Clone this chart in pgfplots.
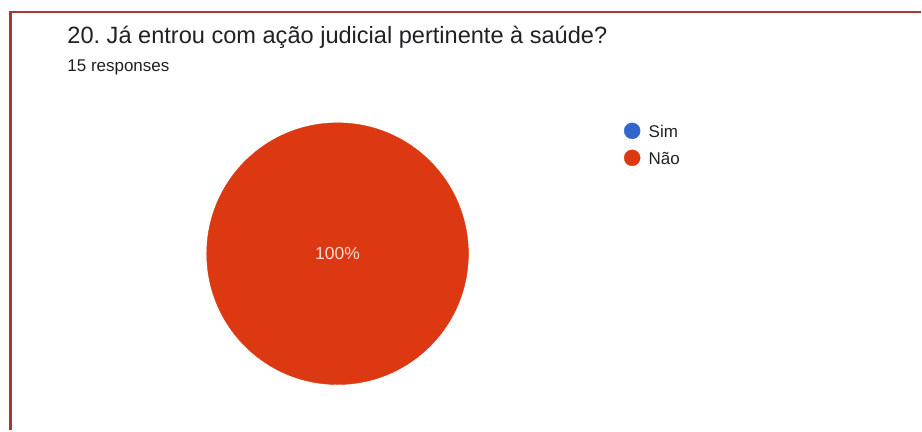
\documentclass[border=0pt]{standalone}
\usepackage{pgfplots}
\pgfplotsset{compat=1.18}
\usepackage{fontspec}
\setmainfont{Liberation Sans}
\frenchspacing
\definecolor{pieRed}{HTML}{DC3912}
\definecolor{pieBlue}{HTML}{3366CC}
\definecolor{frameRed}{HTML}{A83838}
\definecolor{txt}{HTML}{202124}
\begin{document}
\begin{tikzpicture}
\begin{axis}[
  x=1pt, y=1pt, y dir=reverse,
  xmin=0, xmax=922, ymin=0, ymax=431,
  scale only axis, hide axis, clip=false,
  anchor=origin
]
% background (page extent)
\addplot[fill=white, draw=none] coordinates {(0,0) (922,0) (922,431) (0,431)} \closedcycle;
% frame
\addplot[color=frameRed, line width=2.4pt, mark=none] coordinates {(10.5,431) (10.5,12) (922,12)};
% pie: Sim = 0 (0%), Não = 15 (100%) -> full circle
\addplot[only marks, mark=*, mark size=131pt, color=pieRed, mark options={fill=pieRed, draw=none}] coordinates {(338,254)};
% legend markers
\addplot[only marks, mark=*, mark size=8pt, color=pieBlue, mark options={draw=none}] coordinates {(633,131)};
\addplot[only marks, mark=*, mark size=8pt, color=pieRed, mark options={draw=none}] coordinates {(633,158)};
\coordinate (pc) at (axis cs:338,254);
\node[anchor=base west, text=txt, font=\fontsize{23.6}{28}\selectfont] at (axis cs:64,43.5) {20. Já entrou com ação judicial pertinente à saúde?};
\node[anchor=base west, text=txt, font=\fontsize{17}{20}\selectfont] at (axis cs:64,72) {15 responses};
\node[anchor=base west, text=txt, font=\fontsize{17}{20}\selectfont] at (axis cs:646,137.5) {Sim};
\node[anchor=base west, text=txt, font=\fontsize{17}{20}\selectfont] at (axis cs:646,164.5) {Não};
\end{axis}
\node[text=white!82!pieRed, font=\fontsize{17.5}{20}\selectfont] at (pc) {100\%};
\end{tikzpicture}
\end{document}
